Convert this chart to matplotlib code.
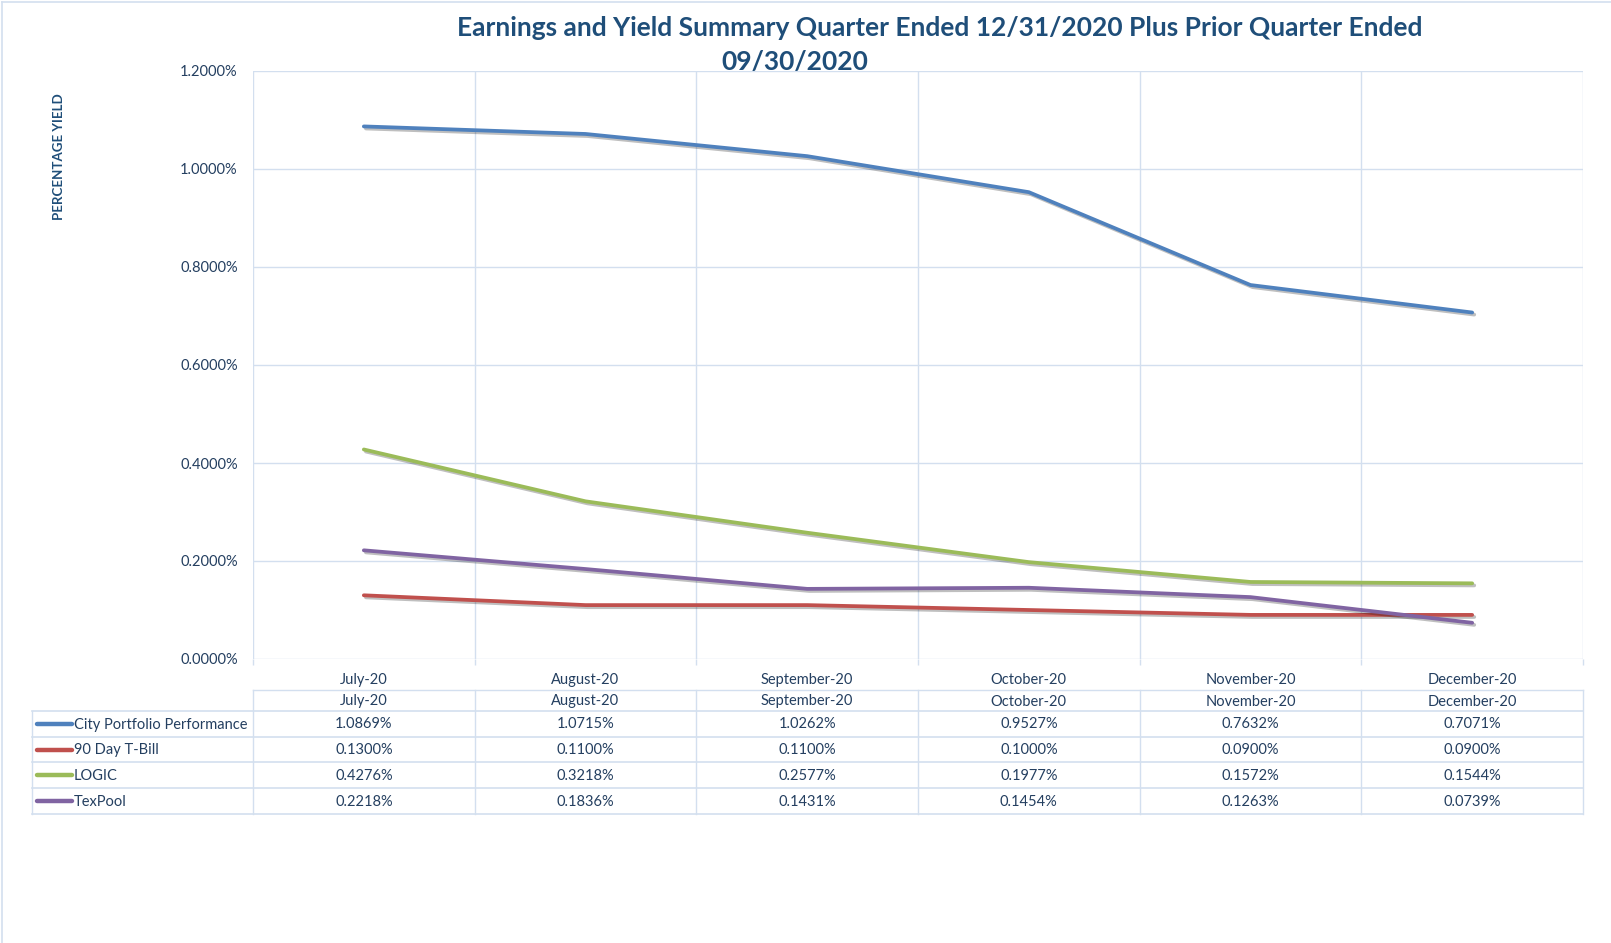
import matplotlib
matplotlib.use("Agg")
import matplotlib.pyplot as plt
import matplotlib.patheffects as pe
import matplotlib.transforms as mtransforms
from matplotlib.lines import Line2D
from matplotlib.ticker import FuncFormatter, FixedLocator

# ---------------- data ----------------
months = ["July-20", "August-20", "September-20", "October-20", "November-20", "December-20"]
series_names = ["City Portfolio Performance", "90 Day T-Bill", "LOGIC", "TexPool"]
city = [1.0869, 1.0715, 1.0262, 0.9527, 0.7632, 0.7071]
tbill = [0.1300, 0.1100, 0.1100, 0.1000, 0.0900, 0.0900]
logic = [0.4276, 0.3218, 0.2577, 0.1977, 0.1572, 0.1544]
texpool = [0.2218, 0.1836, 0.1431, 0.1454, 0.1263, 0.0739]
yticks = [0.0, 0.2, 0.4, 0.6, 0.8, 1.0, 1.2]
title_line1 = "Earnings and Yield Summary Quarter Ended 12/31/2020 Plus Prior Quarter Ended"
title_line2 = "09/30/2020"
ylabel = "PERCENTAGE YIELD"

colors = ["#4F81BD", "#C0504D", "#9BBB59", "#8064A2"]
all_series = [city, tbill, logic, texpool]

plt.rcParams['font.family'] = ['Lato', 'DejaVu Sans']
TXT = "#243F60"
TITLE = "#1F4E79"
GRID = "#D3DFEF"
FS = 10.5

W, H = 1611, 943
fig = plt.figure(figsize=(W / 100, H / 100), dpi=100)
fig.patch.set_facecolor("white")

def fy(p):  # pixel from top -> figure fraction
    return 1 - p / H

def fx(p):
    return p / W

ax_l, ax_r, ax_t, ax_b = 253, 1583, 71, 659
ax = fig.add_axes([fx(ax_l), fy(ax_b), fx(ax_r - ax_l), (ax_b - ax_t) / H])
x = list(range(len(months)))
for vals, c in zip(all_series, colors):
    ax.plot(x, vals, color=c, lw=2.7, solid_capstyle="round", solid_joinstyle="round",
            path_effects=[pe.SimpleLineShadow(offset=(1.5, -1.5), shadow_color="#000000", alpha=0.25),
                          pe.Normal()], zorder=3)

ax.set_xlim(-0.5, len(months) - 0.5)
ax.set_ylim(0, 1.2)
ax.set_yticks(yticks)
ax.yaxis.set_major_formatter(FuncFormatter(lambda v, p: f"{v:.4f}%"))
ax.tick_params(axis="y", length=0, pad=11, labelsize=FS, labelcolor=TXT)
ax.set_xticks(x)
ax.set_xticklabels(months)
ax.tick_params(axis="x", which="major", length=0, pad=10, labelsize=FS, labelcolor=TXT)
bounds = [i - 0.5 for i in range(len(months) + 1)]
ax.xaxis.set_minor_locator(FixedLocator(bounds))
ax.tick_params(axis="x", which="minor", length=4, color=GRID, width=1)
ax.grid(axis="y", color=GRID, lw=1)
ax.grid(axis="x", which="minor", color=GRID, lw=1)
for s in ax.spines.values():
    s.set_visible(False)
ax.set_axisbelow(True)

# ---------------- title & y label ----------------
fig.text(fx(940), fy(28), title_line1, ha="center", va="center", fontsize=19,
         fontweight="bold", color=TITLE)
fig.text(fx(795), fy(62), title_line2, ha="center", va="center", fontsize=19,
         fontweight="bold", color=TITLE)
fig.text(fx(59), fy(157), ylabel, rotation=90, ha="center", va="center", fontsize=9.6,
         fontweight="bold", color=TITLE)

# ---------------- data table ----------------
bt = mtransforms.blended_transform_factory(ax.transData, fig.transFigure)
row_edges = [690, 711, 737, 762, 788, 814]
leg_left = 32

# horizontal lines
fig.add_artist(Line2D([fx(ax_l), fx(ax_r)], [fy(row_edges[0])] * 2, color=GRID, lw=1))
for r in row_edges[1:]:
    fig.add_artist(Line2D([fx(leg_left), fx(ax_r)], [fy(r)] * 2, color=GRID, lw=1.2))
# vertical lines
for b in bounds:
    fig.add_artist(Line2D([b, b], [fy(row_edges[0]), fy(row_edges[-1])], color=GRID, lw=1,
                          transform=bt))
fig.add_artist(Line2D([fx(leg_left)] * 2, [fy(row_edges[1]), fy(row_edges[-1])], color=GRID, lw=1))

# header row
hy = (row_edges[0] + row_edges[1]) / 2 + 1
for i, m in enumerate(months):
    fig.text(i, fy(hy), m, transform=bt, ha="center", va="center", fontsize=FS, color=TXT)

# data rows
for k, (name, vals, c) in enumerate(zip(series_names, all_series, colors)):
    cy = (row_edges[k + 1] + row_edges[k + 2]) / 2
    fig.add_artist(Line2D([fx(37), fx(72)], [fy(cy)] * 2, color=c, lw=3.2, solid_capstyle="round"))
    fig.text(fx(74), fy(cy + 0.5), name, ha="left", va="center", fontsize=FS, color=TXT)
    for i, v in enumerate(vals):
        fig.text(i, fy(cy + 0.5), f"{v:.4f}%", transform=bt, ha="center", va="center",
                 fontsize=FS, color=TXT)

# chart frame (left and top edges visible)
fig.add_artist(Line2D([fx(2), fx(2)], [fy(2), 0], color=GRID, lw=1.2))
fig.add_artist(Line2D([fx(2), 1], [fy(2), fy(2)], color=GRID, lw=1.2))

fig.savefig("out.png", dpi=100, facecolor="white")
